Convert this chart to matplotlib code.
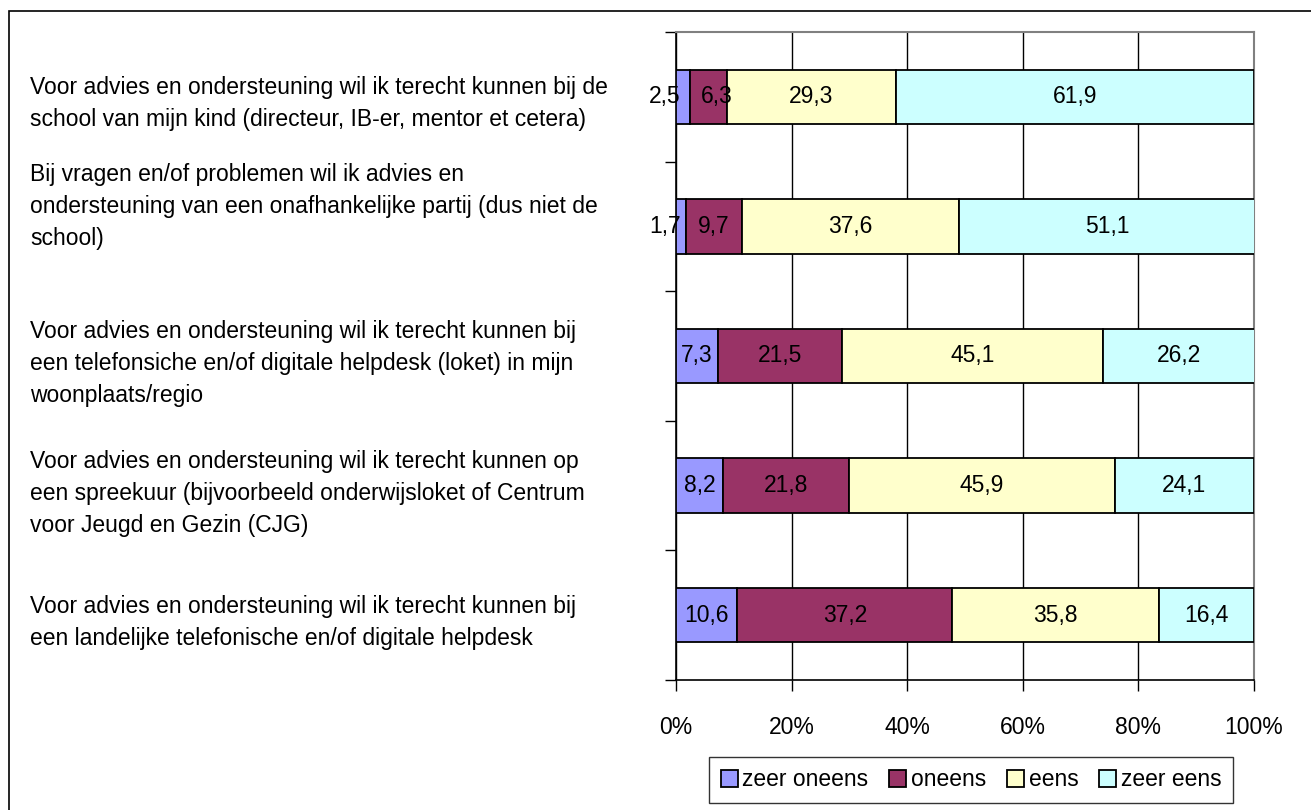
import matplotlib.pyplot as plt
import matplotlib.transforms as mtransforms
from matplotlib.patches import Rectangle

plt.rcParams['font.family'] = ['Liberation Sans', 'DejaVu Sans']

questions = [
    "Voor advies en ondersteuning wil ik terecht kunnen bij de\nschool van mijn kind (directeur, IB-er, mentor et cetera)",
    "Bij vragen en/of problemen wil ik advies en\nondersteuning van een onafhankelijke partij (dus niet de\nschool)",
    "Voor advies en ondersteuning wil ik terecht kunnen bij\neen telefonsiche en/of digitale helpdesk (loket) in mijn\nwoonplaats/regio",
    "Voor advies en ondersteuning wil ik terecht kunnen op\neen spreekuur (bijvoorbeeld onderwijsloket of Centrum\nvoor Jeugd en Gezin (CJG)",
    "Voor advies en ondersteuning wil ik terecht kunnen bij\neen landelijke telefonische en/of digitale helpdesk",
]
series_names = ["zeer oneens", "oneens", "eens", "zeer eens"]
zeer_oneens = [2.5, 1.7, 7.3, 8.2, 10.6]
oneens = [6.3, 9.7, 21.5, 21.8, 37.2]
eens = [29.3, 37.6, 45.1, 45.9, 35.8]
zeer_eens = [61.9, 51.1, 26.2, 24.1, 16.4]
xticks = [0, 20, 40, 60, 80, 100]

colors = ["#9999FF", "#993366", "#FFFFCC", "#CCFFFF"]
# small vertical nudges so the wrapped labels sit like the original
label_shift = [0.05, -0.15, 0.06, 0.06, 0.06]
# pixel nudges for the crowded value labels in the top two rows (series, row)
value_nudge = {(0, 0): -19, (1, 0): 8, (0, 1): -16, (1, 1): 0}
fs = 16.5

fig = plt.figure(figsize=(13.11, 8.10), dpi=100)
ax = fig.add_axes([676 / 1311, 1 - 680 / 810, (1254 - 676) / 1311, (680 - 32) / 810])

ypos = list(range(len(questions)))
left = [0.0] * len(questions)
for s, (name, vals, c) in enumerate(zip(series_names, [zeer_oneens, oneens, eens, zeer_eens], colors)):
    ax.barh(ypos, vals, left=left, height=0.42, color=c, edgecolor='black',
            linewidth=1.3, label=name, zorder=3)
    for y, l, v in zip(ypos, left, vals):
        dx = value_nudge.get((s, y), 0) * 0.72
        ax.annotate(f"{v:.1f}".replace('.', ','), (l + v / 2, y), xytext=(dx, 0),
                    textcoords='offset points', ha='center', va='center',
                    fontsize=fs, zorder=4)
    left = [a + b for a, b in zip(left, vals)]

ax.set_xlim(0, 100)
ax.set_ylim(len(questions) - 0.5, -0.5)
ax.set_xticks(xticks)
ax.set_xticklabels([f"{t}%" for t in xticks], fontsize=fs)
ax.set_yticks([i - 0.5 for i in range(len(questions) + 1)])
ax.set_yticklabels([])
ax.tick_params(axis='both', direction='out', length=8, width=1, color='black')
ax.tick_params(axis='x', pad=18)
ax.grid(axis='x', color='black', linewidth=1, zorder=0)
ax.spines['top'].set_color('#808080')
ax.spines['right'].set_color('#808080')
ax.spines['top'].set_linewidth(1.5)
ax.spines['right'].set_linewidth(1.5)
ax.spines['left'].set_linewidth(1.2)
ax.spines['bottom'].set_linewidth(1.2)

trans = mtransforms.blended_transform_factory(fig.transFigure, ax.transData)
for i, q in enumerate(questions):
    fig.text(30 / 1311, i + label_shift[i], q, transform=trans,
             ha='left', va='center', fontsize=fs, linespacing=1.5)

leg = fig.legend(loc='center', bbox_to_anchor=(971 / 1311, 1 - 780 / 810), ncol=4,
                 frameon=True, fancybox=False, edgecolor='black', fontsize=fs,
                 handlelength=0.75, handleheight=0.75, handletextpad=0.2,
                 columnspacing=0.9, borderpad=0.5)
leg.get_frame().set_linewidth(1)

fig.patches.append(Rectangle((9 / 1311, -0.1), 1.2, 1 - 11 / 810 + 0.1,
                             transform=fig.transFigure, fill=False,
                             edgecolor='black', linewidth=1.2))

fig.savefig('out.png', dpi=100)
